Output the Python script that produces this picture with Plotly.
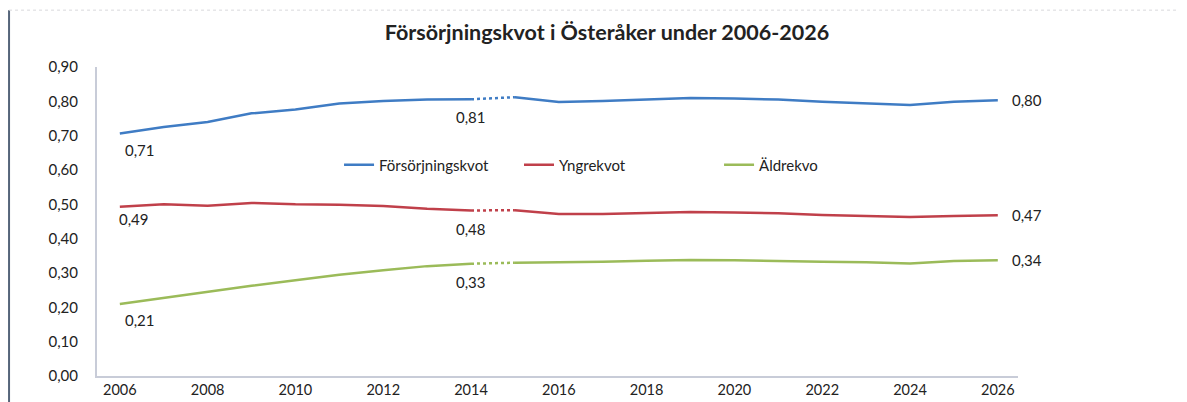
import plotly.graph_objects as go

# Data
years = list(range(2006, 2027))
forsorjningskvot = [0.706, 0.725, 0.740, 0.765, 0.776, 0.794, 0.801, 0.805, 0.806,
                    0.812, 0.798, 0.801, 0.805, 0.810, 0.808, 0.805, 0.799, 0.795,
                    0.789, 0.799, 0.803]
yngrekvot = [0.493, 0.500, 0.496, 0.504, 0.500, 0.499, 0.495, 0.487, 0.482,
             0.483, 0.472, 0.472, 0.474, 0.478, 0.476, 0.474, 0.469, 0.466,
             0.463, 0.466, 0.468]
aldrekvot = [0.210, 0.228, 0.245, 0.263, 0.279, 0.295, 0.308, 0.320, 0.327,
             0.330, 0.331, 0.333, 0.336, 0.338, 0.337, 0.336, 0.333, 0.331,
             0.328, 0.335, 0.337]
series_names = ["Försörjningskvot", "Yngrekvot", "Äldrekvo"]
colors = ["#3f7cc4", "#c0404a", "#9bbb59"]
y_ticks = [0.0, 0.1, 0.2, 0.3, 0.4, 0.5, 0.6, 0.7, 0.8, 0.9]
x_ticks = list(range(2006, 2027, 2))
split_year = 2014  # last historical year, dotted link to first forecast year

title = "Försörjningskvot i Österåker under 2006-2026"
FONT = "Lato, 'Open Sans', sans-serif"

# one legend box per series so the entries sit where the Excel legend had them
legend_ids = ["legend", "legend2", "legend3"]
legend_x = [0.2628, 0.4582, 0.6754]
# nudges for the first-year labels (pixels)
first_dx = [20, 14, 20]
first_dy = [-5, -1, -5]


def fmt(v):
    return f"{v:.2f}".replace(".", ",")


fig = go.Figure()
k = years.index(split_year)
for i, (name, vals, col, lg) in enumerate(zip(series_names,
                                              [forsorjningskvot, yngrekvot, aldrekvot],
                                              colors, legend_ids)):
    # historical part
    fig.add_trace(go.Scatter(x=years[:k + 1], y=vals[:k + 1], mode="lines", name=name,
                             legend=lg, legendgroup=name, line=dict(color=col, width=2.5)))
    # dotted connector
    fig.add_trace(go.Scatter(x=years[k:k + 2], y=vals[k:k + 2], mode="lines", name=name,
                             legend=lg, legendgroup=name, showlegend=False, hoverinfo="skip",
                             line=dict(color=col, width=2.5, dash="dot")))
    # forecast part
    fig.add_trace(go.Scatter(x=years[k + 1:], y=vals[k + 1:], mode="lines", name=name,
                             legend=lg, legendgroup=name, showlegend=False,
                             line=dict(color=col, width=2.5)))

    # data labels: first year, split year (below), last year (right)
    fig.add_annotation(x=years[0], y=vals[0], text=fmt(vals[0]), showarrow=False,
                       xanchor="center", yanchor="top", xshift=first_dx[i], yshift=first_dy[i])
    fig.add_annotation(x=years[k], y=vals[k], text=fmt(vals[k]), showarrow=False,
                       xanchor="center", yanchor="top", yshift=-7)
    fig.add_annotation(x=years[-1], y=vals[-1], text=fmt(vals[-1]), showarrow=False,
                       xanchor="left", yanchor="middle", xshift=12)

# frame lines of the scanned page
fig.add_shape(type="line", xref="paper", yref="paper", x0=-0.0955, x1=-0.0955, y0=-0.09, y1=1.184,
              line=dict(color="#55657a", width=2))
fig.add_shape(type="line", xref="paper", yref="paper", x0=-0.0955, x1=1.19, y0=1.184, y1=1.184,
              line=dict(color="#d8d8dc", width=1, dash="dot"))

legend_style = dict(orientation="h", y=0.683, xanchor="left", yanchor="middle",
                    bgcolor="rgba(0,0,0,0)", font=dict(size=15), itemwidth=30)

# the page body adds an 8px margin, so the figure is 8px smaller each way
fig.update_layout(
    width=1179,
    height=394,
    separators=",.",
    template="plotly_white",
    paper_bgcolor="white",
    plot_bgcolor="white",
    margin=dict(l=89, r=169, t=59, b=26),
    font=dict(family=FONT, size=15, color="#222222"),
    title=dict(text=f"<b>{title}</b>", x=0.508, xanchor="center", xref="container",
               y=0.939, yanchor="middle", yref="container",
               font=dict(family=FONT, size=21.5, color="#222222")),
    showlegend=True,
    legend=dict(x=legend_x[0], **legend_style),
    legend2=dict(x=legend_x[1], **legend_style),
    legend3=dict(x=legend_x[2], **legend_style),
    xaxis=dict(
        range=[2005.48, 2026.46],
        tickvals=x_ticks,
        showgrid=False,
        zeroline=False,
        showline=True,
        linecolor="#c8ccd8",
        linewidth=2,
        ticks="",
        ticklabelstandoff=0,
        automargin=False,
        tickfont=dict(size=14.5),
    ),
    yaxis=dict(
        range=[0, 0.9],
        tickvals=y_ticks,
        tickformat=".2f",
        showgrid=False,
        zeroline=False,
        showline=True,
        linecolor="#c8ccd8",
        linewidth=2,
        ticks="",
        ticklabelstandoff=14,
        automargin=False,
        tickfont=dict(size=15),
    ),
)

fig.write_html("out.html")
